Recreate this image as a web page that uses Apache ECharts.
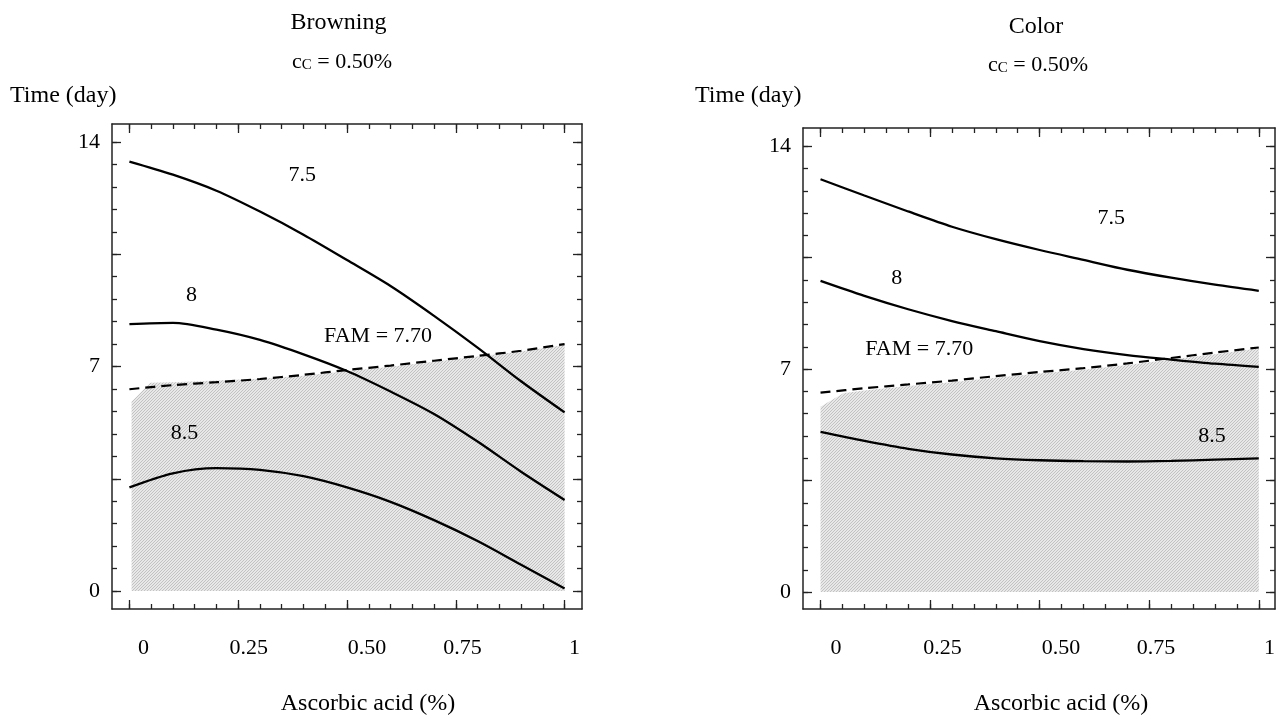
<!DOCTYPE html>
<html>
<head>
<meta charset="utf-8">
<script src="https://cdn.jsdelivr.net/npm/echarts@6/dist/echarts.min.js"></script>
<style>
html,body{margin:0;padding:0;background:#fff;}
#chart{width:1281px;height:718px;}
</style>
</head>
<body>
<div id="chart"></div>
<script>
// ---------------- data ----------------
const acid = [0, 0.1, 0.2, 0.3, 0.4, 0.5, 0.6, 0.7, 0.8, 0.9, 1];

const browning75  = [13.39, 12.98, 12.48, 11.83, 11.11, 10.32, 9.51, 8.58, 7.59, 6.54, 5.57];
const browning8   = [8.32, 8.36, 8.15, 7.83, 7.38, 6.86, 6.22, 5.52, 4.66, 3.72, 2.84];
const browning85  = [3.23, 3.67, 3.83, 3.78, 3.58, 3.23, 2.78, 2.21, 1.56, 0.82, 0.08];
const browningFam = [6.29, 6.42, 6.51, 6.61, 6.74, 6.89, 7.03, 7.18, 7.33, 7.49, 7.70];
const browningShadeX   = [0.005, 0.048, 0.1, 0.2, 0.3, 0.4, 0.5, 0.6, 0.7, 0.8, 0.9, 1.0];
const browningShadeTop = [5.90, 6.49, 6.51, 6.56, 6.62, 6.71, 6.85, 6.99, 7.15, 7.31, 7.47, 7.67];

const color75  = [12.96, 12.45, 11.95, 11.47, 11.08, 10.74, 10.43, 10.12, 9.87, 9.65, 9.46];
const color8   = [9.77, 9.30, 8.88, 8.51, 8.19, 7.88, 7.63, 7.44, 7.30, 7.17, 7.07];
const color85  = [5.03, 4.75, 4.50, 4.32, 4.20, 4.14, 4.11, 4.10, 4.12, 4.16, 4.20];
const colorFam = [6.26, 6.40, 6.52, 6.64, 6.78, 6.91, 7.03, 7.18, 7.35, 7.52, 7.68];
const colorShadeX   = [0.0, 0.052, 0.1, 0.2, 0.3, 0.4, 0.5, 0.6, 0.7, 0.8, 0.9, 1.0];
const colorShadeTop = [5.82, 6.24, 6.33, 6.47, 6.59, 6.73, 6.86, 6.98, 7.13, 7.30, 7.47, 7.65];

const contourLabels = ['7.5', '8', 'FAM = 7.70', '8.5'];
const browningLabelAt = [[0.398, 12.97], [0.1435, 9.23], [0.572, 7.94], [0.127, 4.92]];
const colorLabelAt    = [[0.664, 11.72], [0.1745, 9.84], [0.2258, 7.63], [0.894, 4.88]];

const xTickValues = [0, 0.25, 0.5, 0.75, 1];
const xTickLabels = ['0', '0.25', '0.50', '0.75', '1'];
const yTickValues = [0, 7, 14];
const yTickLabels = ['0', '7', '14'];
const yMajorTicks = [0, 3.5, 7, 10.5, 14];

const panelTitles = ['Browning', 'Color'];
const subtitleText = '{n|c}{s|C}{n| = 0.50%}';
const yName = 'Time (day)';
const xName = 'Ascorbic acid (%)';

// ---------------- layout / style ----------------
const FONT = '"Liberation Serif", "Times New Roman", Times, serif';
const AX = '#222';
const xMinor = Array.from({length: 21}, (_, i) => +(i * 0.05).toFixed(2));
const yMinor = Array.from({length: 21}, (_, i) => +(i * 0.7).toFixed(1));

const panels = [
  {grid: {left: 112, top: 124, width: 470, height: 485}, xMin: -0.04, xMax: 1.04, yMin: -0.56, yMax: 14.56,
   labelShift: [14, 10.6, 20, 6.7, 10],
   title: [338.5, 23], sub: [342, 62], yName: [10, 96], xName: [368, 704],
   series: [browning75, browning8, browning85], fam: browningFam,
   shadeX: browningShadeX, shadeTop: browningShadeTop, labelAt: browningLabelAt},
  {grid: {left: 803, top: 128, width: 472, height: 481}, xMin: -0.04, xMax: 1.037, yMin: -0.53, yMax: 14.57,
   labelShift: [15.5, 12.4, 21.4, 6.7, 10.7],
   title: [1036, 27], sub: [1038, 65], yName: [695, 96], xName: [1061, 704],
   series: [color75, color8, color85], fam: colorFam,
   shadeX: colorShadeX, shadeTop: colorShadeTop, labelAt: colorLabelAt}
];

function makeHatch() {
  const c = document.createElement('canvas');
  c.width = 3; c.height = 3;
  const g = c.getContext('2d');
  g.fillStyle = '#e8e8e8'; g.fillRect(0, 0, 3, 3);
  g.fillStyle = '#c2c2c2';
  for (let i = 0; i < 3; i++) g.fillRect(i, 2 - i, 1, 1);
  return c;
}
const hatch = {image: makeHatch(), repeat: 'repeat'};

const xAxes = [], yAxes = [], grids = [], series = [], graphics = [];

panels.forEach((p, k) => {
  grids.push(Object.assign({containLabel: false}, p.grid));
  const lineOn = {show: true, onZero: false, lineStyle: {color: AX, width: 1.5}};
  const lineOff = {show: false, onZero: false};
  const tick = (vals, len) => ({show: true, inside: true, length: len, customValues: vals, lineStyle: {color: AX, width: 1.3}});
  const base = {type: 'value', gridIndex: k, splitLine: {show: false}, axisPointer: {show: false}};
  const rich = {};
  xTickLabels.forEach((t, i) => {
    rich['p' + i] = {fontSize: 22, fontFamily: FONT, color: '#000', padding: [0, 0, 0, 2 * p.labelShift[i]]};
  });
  const xb = Object.assign({}, base, {min: p.xMin, max: p.xMax});
  xAxes.push(Object.assign({}, xb, {position: 'bottom', axisLine: lineOn, axisTick: tick(xTickValues, 9),
    axisLabel: {show: true, customValues: xTickValues, margin: 28, fontSize: 22, fontFamily: FONT, color: '#000',
      formatter: v => { const i = xTickValues.findIndex(t => Math.abs(t - v) < 1e-9); return '{p' + i + '|' + xTickLabels[i] + '}'; },
      rich: rich}}));
  xAxes.push(Object.assign({}, xb, {position: 'bottom', axisLine: lineOff, axisTick: tick(xMinor, 5), axisLabel: {show: false}}));
  xAxes.push(Object.assign({}, xb, {position: 'top', axisLine: lineOn, axisTick: tick(xTickValues, 9), axisLabel: {show: false}}));
  xAxes.push(Object.assign({}, xb, {position: 'top', axisLine: lineOff, axisTick: tick(xMinor, 5), axisLabel: {show: false}}));

  const yb = Object.assign({}, base, {min: p.yMin, max: p.yMax});
  yAxes.push(Object.assign({}, yb, {position: 'left', axisLine: lineOn, axisTick: tick(yMajorTicks, 9),
    axisLabel: {show: true, customValues: yTickValues, margin: 12, fontSize: 22, fontFamily: FONT, color: '#000',
      formatter: v => { const i = yTickValues.findIndex(t => Math.abs(t - v) < 1e-9); return yTickLabels[i]; }}}));
  yAxes.push(Object.assign({}, yb, {position: 'left', axisLine: lineOff, axisTick: tick(yMinor, 5), axisLabel: {show: false}}));
  yAxes.push(Object.assign({}, yb, {position: 'right', axisLine: lineOn, axisTick: tick(yMajorTicks, 9), axisLabel: {show: false}}));
  yAxes.push(Object.assign({}, yb, {position: 'right', axisLine: lineOff, axisTick: tick(yMinor, 5), axisLabel: {show: false}}));

  const xi = 4 * k, yi = 4 * k;
  series.push({type: 'line', xAxisIndex: xi, yAxisIndex: yi, silent: true, showSymbol: false, z: 1,
    data: p.shadeX.map((x, i) => [x, p.shadeTop[i]]),
    lineStyle: {width: 0, opacity: 0}, areaStyle: {color: hatch, opacity: 1}});
  p.series.forEach(arr => {
    series.push({type: 'line', xAxisIndex: xi, yAxisIndex: yi, silent: true, showSymbol: false, smooth: 0.3, z: 3,
      data: acid.map((x, i) => [x, arr[i]]), lineStyle: {color: '#000', width: 2.3}});
  });
  series.push({type: 'line', xAxisIndex: xi, yAxisIndex: yi, silent: true, showSymbol: false, smooth: 0.3, z: 3,
    data: acid.map((x, i) => [x, p.fam[i]]), lineStyle: {color: '#000', width: 2.2, type: [10, 6]}});
  series.push({type: 'scatter', xAxisIndex: xi, yAxisIndex: yi, silent: true, symbolSize: 0.5, z: 4,
    itemStyle: {color: '#fff', opacity: 1},
    data: p.labelAt.map((v, i) => ({name: contourLabels[i], value: v})),
    label: {show: true, position: [0, 0], align: 'center', verticalAlign: 'middle', formatter: q => q.name,
      fontSize: 22, fontFamily: FONT, color: '#000', textBorderWidth: 0, opacity: 1}});

  graphics.push({type: 'text', x: p.title[0], y: p.title[1], style: {text: panelTitles[k], font: '24px ' + FONT, fill: '#000', align: 'center', verticalAlign: 'middle'}});
  graphics.push({type: 'text', x: p.sub[0], y: p.sub[1], style: {text: subtitleText, fill: '#000', align: 'center', verticalAlign: 'middle',
    rich: {n: {fontSize: 22, lineHeight: 22, fontFamily: FONT, color: '#000', verticalAlign: 'bottom'},
           s: {fontSize: 15, lineHeight: 15, fontFamily: FONT, color: '#000', verticalAlign: 'bottom'}}}});
  graphics.push({type: 'text', x: p.yName[0], y: p.yName[1], style: {text: yName, font: '24px ' + FONT, fill: '#000', align: 'left', verticalAlign: 'middle'}});
  graphics.push({type: 'text', x: p.xName[0], y: p.xName[1], style: {text: xName, font: '24px ' + FONT, fill: '#000', align: 'center', verticalAlign: 'middle'}});
});

const chart = echarts.init(document.getElementById('chart'), null, {renderer: 'canvas'});
chart.setOption({
  animation: false,
  backgroundColor: '#fff',
  grid: grids,
  xAxis: xAxes,
  yAxis: yAxes,
  series: series,
  graphic: graphics
});
</script>
</body>
</html>
